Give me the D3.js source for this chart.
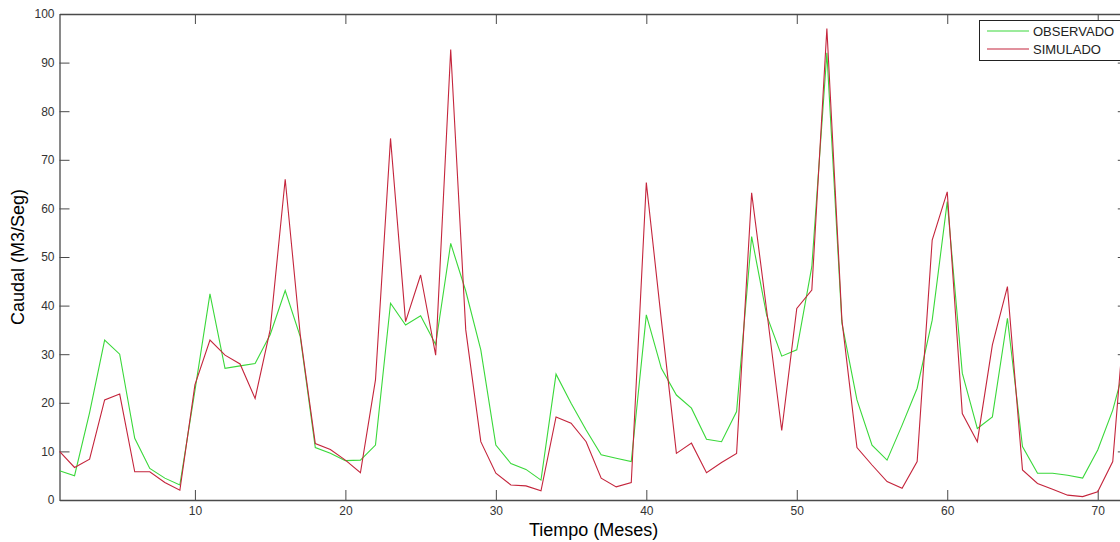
<!DOCTYPE html>
<html>
<head>
<meta charset="utf-8">
<script src="https://cdn.jsdelivr.net/npm/d3@7/dist/d3.min.js"></script>
<style>
  html, body { margin: 0; padding: 0; background: #fff; }
  svg { display: block; font-family: Arial, "Liberation Sans", sans-serif; }
</style>
</head>
<body>
<svg id="chart" width="1120" height="542"></svg>
<script>
// Monthly discharge: observed vs simulated
const meses = [1,2,3,4,5,6,7,8,9,10,11,12,13,14,15,16,17,18,19,20,21,22,23,24,
  25,26,27,28,29,30,31,32,33,34,35,36,37,38,39,40,41,42,43,44,45,46,47,48,
  49,50,51,52,53,54,55,56,57,58,59,60,61,62,63,64,65,66,67,68,69,70,71,72];

const observado = [6.0,5.0,18,32.9,30.0,12.7,6.5,4.5,3.1,22.5,42.4,27.1,27.6,28.1,34,43.1,
  33.6,10.8,9.6,8.1,8.2,11.3,40.5,36.0,37.9,32,52.8,43,30.9,11.3,7.5,6.3,
  4.1,25.9,19.9,14.4,9.3,8.6,7.9,38.1,27.1,21.6,18.9,12.5,12.0,18.2,54.2,38,
  29.6,30.9,48,92,36.4,20.6,11.3,8.2,15.4,23.0,37.0,61.4,26.1,14.7,17.1,37.4,
  11.0,5.5,5.5,5.1,4.5,10.3,18.5,30];

const simulado = [10.0,6.7,8.4,20.6,21.8,5.8,5.8,3.6,2.0,23.7,32.9,29.8,28.0,20.9,35,66,
  34,11.6,10.4,8.2,5.6,24.7,74.4,36.7,46.3,29.8,92.7,35,12.0,5.5,3.1,2.9,
  1.9,17.1,15.8,12.0,4.5,2.7,3.6,65.3,37,9.6,11.7,5.6,7.7,9.6,63.2,39,
  14.3,39.4,43.2,97.0,37,10.8,7.2,3.8,2.4,7.9,53.5,63.4,17.8,12.0,31.9,43.9,
  6.2,3.4,2.2,1.0,0.7,1.7,7.9,46];

const xTicks = [10,20,30,40,50,60,70];
const yTicks = [0,10,20,30,40,50,60,70,80,90,100];
const seriesNames = ["OBSERVADO", "SIMULADO"];
const seriesColors = ["#3ad83a", "#c4253c"];

const svg = d3.select("#chart");
const plotLeft = 59.5, plotRight = 1127.8, plotTop = 14, plotBottom = 500;
const tickLen = 10;
const axisColor = "#4a4a4a";

const x = d3.scaleLinear().domain([1, 72]).range([plotLeft, plotRight]);
const y = d3.scaleLinear().domain([0, 100]).range([plotBottom, plotTop]);

// clip region for the plotted lines
svg.append("defs").append("clipPath").attr("id", "plotClip")
  .append("rect").attr("x", plotLeft).attr("y", plotTop)
  .attr("width", plotRight - plotLeft).attr("height", plotBottom - plotTop);

// Axes: box with inward ticks
const axBottom = svg.append("g").attr("transform", `translate(0,${plotBottom})`)
  .call(d3.axisBottom(x).tickValues(xTicks).tickSize(-tickLen).tickPadding(6).tickSizeOuter(0));
const axTop = svg.append("g").attr("transform", `translate(0,${plotTop})`)
  .call(d3.axisTop(x).tickValues(xTicks).tickSize(-tickLen).tickFormat("").tickSizeOuter(0));
const axLeft = svg.append("g").attr("transform", `translate(${plotLeft},0)`)
  .call(d3.axisLeft(y).tickValues(yTicks).tickSize(-tickLen).tickPadding(5).tickSizeOuter(0));
const axRight = svg.append("g").attr("transform", `translate(${plotRight},0)`)
  .call(d3.axisRight(y).tickValues(yTicks).tickSize(-tickLen).tickFormat("").tickSizeOuter(0));

[axBottom, axTop, axLeft, axRight].forEach(g => {
  g.select(".domain").attr("stroke", axisColor).attr("stroke-width", 1.3);
  g.selectAll(".tick line").attr("stroke", axisColor).attr("stroke-width", 1);
  g.selectAll(".tick text").attr("fill", "#333").attr("font-size", 12)
    .attr("font-family", "Arial, 'Liberation Sans', sans-serif");
});

// series lines
const line = d3.line().x((d, i) => x(meses[i])).y(d => y(d));
const plot = svg.append("g").attr("clip-path", "url(#plotClip)");
[observado, simulado].forEach((vals, k) => {
  plot.append("path").datum(vals)
    .attr("fill", "none")
    .attr("stroke", seriesColors[k])
    .attr("stroke-width", 1.1)
    .attr("stroke-linejoin", "miter")
    .attr("d", line);
});

// axis titles
svg.append("text")
  .attr("x", x(36.5)).attr("y", 536)
  .attr("text-anchor", "middle")
  .attr("font-size", 18).attr("fill", "#000")
  .text("Tiempo (Meses)");

svg.append("text")
  .attr("transform", `translate(24,${(plotTop + plotBottom) / 2}) rotate(-90)`)
  .attr("text-anchor", "middle")
  .attr("font-size", 18).attr("fill", "#000")
  .text("Caudal (M3/Seg)");

// legend
const lg = svg.append("g");
lg.append("rect")
  .attr("x", 979.5).attr("y", 20.5).attr("width", 160).attr("height", 40)
  .attr("fill", "#fff").attr("stroke", "#222").attr("stroke-width", 1);
seriesNames.forEach((name, k) => {
  const ly = 31 + k * 18;
  lg.append("line")
    .attr("x1", 987).attr("x2", 1029).attr("y1", ly).attr("y2", ly)
    .attr("stroke", seriesColors[k]).attr("stroke-width", 1.1);
  lg.append("text")
    .attr("x", 1033).attr("y", ly + 4.5)
    .attr("font-size", 13).attr("fill", "#222")
    .text(name);
});
</script>
</body>
</html>
